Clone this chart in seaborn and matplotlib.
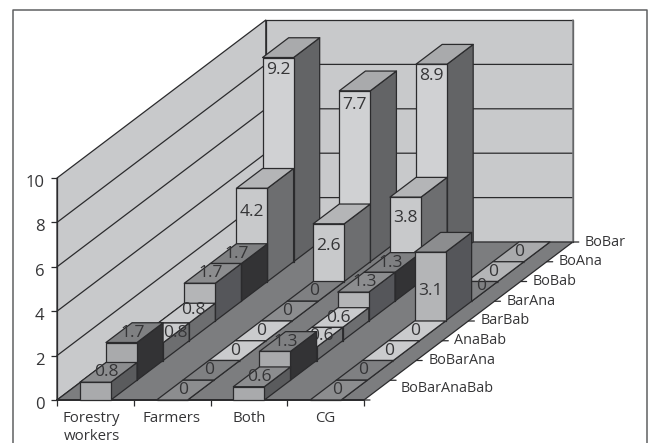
import matplotlib
matplotlib.use("Agg")
import matplotlib.pyplot as plt
from matplotlib.lines import Line2D
from matplotlib.patches import Polygon
from matplotlib.transforms import ScaledTranslation
import seaborn as sns

# Prevalence (%) by occupational group and antibody combination
groups = ["Forestry\nworkers", "Farmers", "Both", "CG"]
series = ["BoBarAnaBab", "BoBarAna", "AnaBab", "BarBab", "BarAna", "BoBab", "BoAna", "BoBar"]
forestry = [0.8, 1.7, 0.8, 0.8, 1.7, 1.7, 4.2, 9.2]
farmers = [0, 0, 0, 0, 0, 0, 2.6, 7.7]
both = [0.6, 1.3, 0.6, 0.6, 1.3, 1.3, 3.8, 8.9]
control = [0, 0, 0, 0, 3.1, 0, 0, 0]
group_values = [forestry, farmers, both, control]
y_ticks = [0, 2, 4, 6, 8, 10]

# Face shades for each series, front to back
front_shades = ["#a9aaac", "#a9aaac", "#cacbcd", "#cacbcd", "#b4b5b7", "#aaabad", "#c8c9cb", "#d0d1d3"]
top_shades = ["#8c8d8f", "#7f8082", "#cacbcd", "#cacbcd", "#8c8d8f", "#7f8082", "#b4b5b7", "#a9aaac"]
side_shades = ["#5a5b5d", "#333335", "#6d6e70", "#6d6e70", "#55565a", "#333335", "#6d6e70", "#636466"]

WALL = "#c8c9cb"
FLOOR = "#7c7d7f"
INK = "#2b2b2d"
TEXT = "#353537"

sns.set_theme(style="white", rc={"axes.edgecolor": INK, "xtick.color": INK, "ytick.color": INK})
plt.rcParams["font.family"] = ["Open Sans", "DejaVu Sans"]
FONT = 10.4
VALUE_FONT = 12.6
TICK_FONT = 12

fig = plt.figure(figsize=(6.48, 4.43), dpi=100)
W, H = 648, 443
ax = fig.add_axes([0, 0, 1, 1])
CAT_PX, UNIT_PX = 76.75, 22.2
X0, Y0 = 57, 400
ax.set_xlim(-X0 / CAT_PX, (W - X0) / CAT_PX)
ax.set_ylim(-(H - Y0) / UNIT_PX, Y0 / UNIT_PX)
ax.patch.set_alpha(0)

# Oblique projection: each depth step shifts a point right and up in data units
DEPTH_X = 26.1 / CAT_PX
DEPTH_Y = 19.75 / UNIT_PX
N_DEPTH = len(series)
N_GROUPS = len(groups)
TOP = y_ticks[-1]


def proj(x, depth, value):
    return (x + depth * DEPTH_X, value + depth * DEPTH_Y)


def face(points, color, z=1, lw=0.9):
    ax.add_patch(Polygon([proj(*p) for p in points], closed=True, facecolor=color,
                         edgecolor=INK, linewidth=lw, zorder=z, joinstyle="round"))


# Walls and floor
face([(0, 0, 0), (0, N_DEPTH, 0), (0, N_DEPTH, TOP), (0, 0, TOP)], WALL)
face([(0, N_DEPTH, 0), (N_GROUPS, N_DEPTH, 0), (N_GROUPS, N_DEPTH, TOP), (0, N_DEPTH, TOP)], WALL)
face([(0, 0, 0), (N_GROUPS, 0, 0), (N_GROUPS, N_DEPTH, 0), (0, N_DEPTH, 0)], FLOOR)
for tick in y_ticks[1:-1]:
    a, b, c = proj(0, 0, tick), proj(0, N_DEPTH, tick), proj(N_GROUPS, N_DEPTH, tick)
    ax.plot([a[0], b[0], c[0]], [a[1], b[1], c[1]], color=INK, lw=0.9, zorder=1.1)
r0, r1 = proj(N_GROUPS, N_DEPTH, 0), proj(N_GROUPS, N_DEPTH, TOP)
ax.plot([r0[0], r1[0]], [r0[1], r1[1]], color="#77787a", lw=1.1, zorder=1.1)

BAR_W = 0.404
BAR_LEFT = 0.298

# Value labels printed on the front face, with their drop below the bar top in pixels
face_drop = {(0, 7): 12, (1, 7): 14, (2, 7): 12, (0, 6): 24, (1, 6): 22, (2, 6): 21, (3, 4): 39}
# Labels shifted clear of neighbouring bars, in pixels
top_nudge = {(0, 2): (15, 0), (0, 3): (7, 3), (2, 2): (7, 1), (3, 5): (12, 5)}

z = 2.0
for d in range(N_DEPTH - 1, -1, -1):
    for g in range(N_GROUPS):
        v = group_values[g][d]
        x0, x1 = g + BAR_LEFT, g + BAR_LEFT + BAR_W
        z += 0.01
        face([(x1, d, 0), (x1, d + 1, 0), (x1, d + 1, v), (x1, d, v)], side_shades[d], z)
        face([(x0, d, v), (x1, d, v), (x1, d + 1, v), (x0, d + 1, v)], top_shades[d], z)
        face([(x0, d, 0), (x1, d, 0), (x1, d, v), (x0, d, v)], front_shades[d], z)
        z += 0.01
        label = f"{v:g}"
        if (g, d) in face_drop:
            xy = proj((x0 + x1) / 2, d, v)
            ax.annotate(label, xy, xytext=(0, -face_drop[(g, d)]), textcoords="offset pixels",
                        ha="center", va="center", fontsize=VALUE_FONT, color=TEXT, zorder=z)
        else:
            nx, ny = top_nudge.get((g, d), (-2, 0))
            xy = proj((x0 + x1) / 2, d + 0.5, v)
            ax.annotate(label, xy, xytext=(nx, ny), textcoords="offset pixels",
                        ha="center", va="center", fontsize=VALUE_FONT, color=TEXT, zorder=z)

# Depth axis: ticks along the right edge of the floor with the series names
for i, name in enumerate(series):
    d = i + 1
    p = proj(N_GROUPS, d, 0)
    ax.annotate("", xy=p, xytext=(6, 0), textcoords="offset pixels",
                arrowprops=dict(arrowstyle="-", color=INK, lw=0.9, shrinkA=0, shrinkB=0))
    dx, dy = (12, 0) if d > 1 else (11, -8)
    ax.annotate(name, p, xytext=(dx, dy), textcoords="offset pixels", ha="left", va="center",
                fontsize=FONT, color=TEXT)
p = proj(N_GROUPS, 0, 0)
ax.annotate("", xy=p, xytext=(6, 0), textcoords="offset pixels",
            arrowprops=dict(arrowstyle="-", color=INK, lw=0.9, shrinkA=0, shrinkB=0))

# Value and category axes
sns.despine(ax=ax, top=True, right=True)
ax.spines["left"].set_position(("data", 0))
ax.spines["bottom"].set_position(("data", 0))
ax.spines["left"].set_bounds(0, TOP)
ax.spines["bottom"].set_bounds(0, N_GROUPS)
ax.spines["left"].set_linewidth(0.9)
ax.spines["bottom"].set_linewidth(1.4)
ax.set_yticks(y_ticks)
ax.set_yticklabels([str(t) for t in y_ticks], fontsize=TICK_FONT, color=TEXT)
ax.set_xticks(range(N_GROUPS + 1))
ax.set_xticklabels([])
ax.set_xticks([0.45, 1.49, 2.5, 3.5], minor=True)
ax.set_xticklabels(groups, minor=True, fontsize=FONT + 0.4, color=TEXT, linespacing=1.25)
ax.tick_params(axis="both", which="major", direction="out", length=4, width=0.9, left=True, bottom=True, pad=3)
ax.tick_params(axis="y", which="major", pad=5)
ax.tick_params(axis="x", which="minor", length=0, pad=8, bottom=False)

# The value labels sit a little below their ticks
label_shift = ScaledTranslation(0, -3 / fig.dpi, fig.dpi_scale_trans)
for tick_label in ax.get_yticklabels():
    tick_label.set_transform(tick_label.get_transform() + label_shift)

# Panel frame, open at the bottom
frame_x = [13 / W, 13 / W, 647 / W, 647 / W]
frame_y = [0, 1 - 10 / H, 1 - 10 / H, 0]
fig.add_artist(Line2D(frame_x, frame_y, transform=fig.transFigure, color="#5f6062", lw=1.1))

fig.savefig("out.png", dpi=100)
